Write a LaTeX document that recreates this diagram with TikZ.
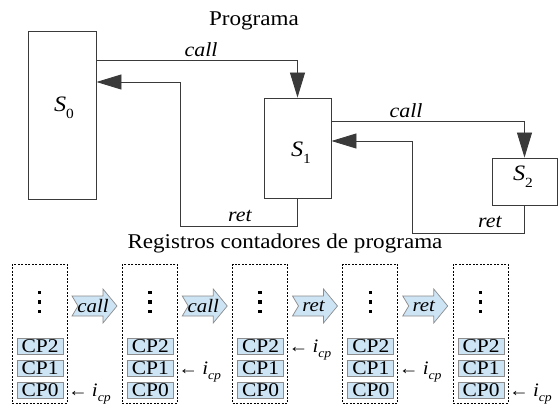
\documentclass[tikz,border=0pt]{standalone}
\usepackage{fontspec}
\setmainfont{Liberation Serif}[FakeStretch=1.1]
\usetikzlibrary{arrows.meta}
\definecolor{cpfill}{HTML}{CDE4F5}
\definecolor{cpedge}{HTML}{8C8C8C}
\definecolor{wirecol}{HTML}{3A3A3A}
\newcommand{\fsz}[1]{\fontsize{#1}{#1}\selectfont}
% segment name with an upright subscript
\newcommand{\segname}[2]{\textit{#1}\raisebox{-0.3em}{\fsz{14}#2}}
% pointer to the active program counter
\newcommand{\icp}{{\fsz{18}←}\hspace{4pt}\textit{i}\raisebox{-0.3em}{\fsz{12.5}\textit{cp}}}
\begin{document}
\begin{tikzpicture}[x=1pt,y=-1pt,
  seg/.style={draw=wirecol, line width=0.9pt, inner sep=0pt},
  wire/.style={draw=wirecol, line width=0.9pt},
  tip/.style={-{Triangle[length=25pt,width=15pt]}},
  lbl/.style={inner sep=0pt, font=\fsz{20}\itshape},
  title/.style={inner sep=0pt, font=\fsz{21}, anchor=base},
  col/.style={draw=black, dash pattern=on 2pt off 1.5pt, line width=0.7pt,
    minimum width=55pt, minimum height=139pt, inner sep=0pt},
  cpbox/.style={draw=cpedge, fill=cpfill, line width=0.8pt,
    minimum width=46pt, minimum height=16pt, inner sep=0pt, font=\fsz{19.5}},
  blk/.style={draw=cpedge, fill=cpfill, line width=0.7pt},
  ptr/.style={anchor=base west, inner sep=0pt, font=\fsz{19}},
]
\useasboundingbox (0,0) rectangle (558,404);

% ---------- program segments ----------
\node[title] (prog) at (254,26) {Programa};

\node[seg, minimum width=68pt, minimum height=168pt] (S0) at (62,115) {};
\node[inner sep=0pt, font=\fsz{22}] (S0l) at (64,108) {\segname{S}{0}};
\node[seg, minimum width=67pt, minimum height=100pt] (S1) at (297.5,148) {};
\node[inner sep=0pt, font=\fsz{22}] (S1l) at (301,153) {\segname{S}{1}};
\node[seg, minimum width=65pt, minimum height=47pt] (S2) at (524.5,181.5) {};
\node[inner sep=0pt, font=\fsz{22}] (S2l) at (523,177) {\segname{S}{2}};

% bends of the call / return connectors
\coordinate (k1) at (297.5,60);
\coordinate (r1a) at (297.5,226);
\coordinate (r1b) at (180,226);
\coordinate (r1c) at (180,82);
\coordinate (k2) at (524.5,121);
\coordinate (r2a) at (524.5,233);
\coordinate (r2b) at (412,233);
\coordinate (r2c) at (412,141);

\draw[wire,tip] (S0.east |- k1) -- (k1) -- (S1.north);
\draw[wire,tip] (S1.south) -- (r1a) -- (r1b) -- (r1c) -- (S0.east |- r1c);
\draw[wire,tip] (S1.east |- k2) -- (k2) -- (S2.north);
\draw[wire,tip] (S2.south) -- (r2a) -- (r2b) -- (r2c) -- (S1.east |- r2c);

\node[lbl] (lc1) at (201,50) {call};
\node[lbl] (lr1) at (240,216) {ret};
\node[lbl] (lc2) at (406,111) {call};
\node[lbl] (lr2) at (490,222) {ret};

% ---------- program counter registers ----------
\node[title] (regs) at (285,248) {Registros contadores de programa};

\foreach \i/\p in {0/0,1/1,2/2,3/1,4/0}{
  \pgfmathsetmacro{\xl}{12+110.25*\i}
  \node[col] (col\i) at (\xl+27.5,333.5) {};
  \fill (\xl+27.5-1.75,292.5-1.75) rectangle ++(3.5,3.5);
  \fill (\xl+27.5-1.75,302-1.75) rectangle ++(3.5,3.5);
  \fill (\xl+27.5-1.75,311.5-1.75) rectangle ++(3.5,3.5);
  \node[cpbox] (cp\i-2) at (\xl+28,346) {CP2};
  \node[cpbox] (cp\i-1) at (\xl+28,368) {CP1};
  \node[cpbox] (cp\i-0) at (\xl+28,390) {CP0};
  \node[ptr] (ptr\i) at (\xl+56,396-22*\p) {\icp};
}

% transitions between consecutive register states
\foreach \i/\t in {0/call,1/call,2/ret,3/ret}{
  \pgfmathsetmacro{\tx}{72+110.25*\i}
  \draw[blk] (\tx,296) -- ++(31,0) -- ++(0,-7) -- (\tx+45,306)
    -- (\tx+31,323) -- ++(0,-7) -- (\tx,316) -- (\tx+6,306) -- cycle;
  \node[inner sep=0pt, font=\fsz{19}\itshape] (tr\i) at (\tx+21,306) {\t};
}
\end{tikzpicture}
\end{document}
